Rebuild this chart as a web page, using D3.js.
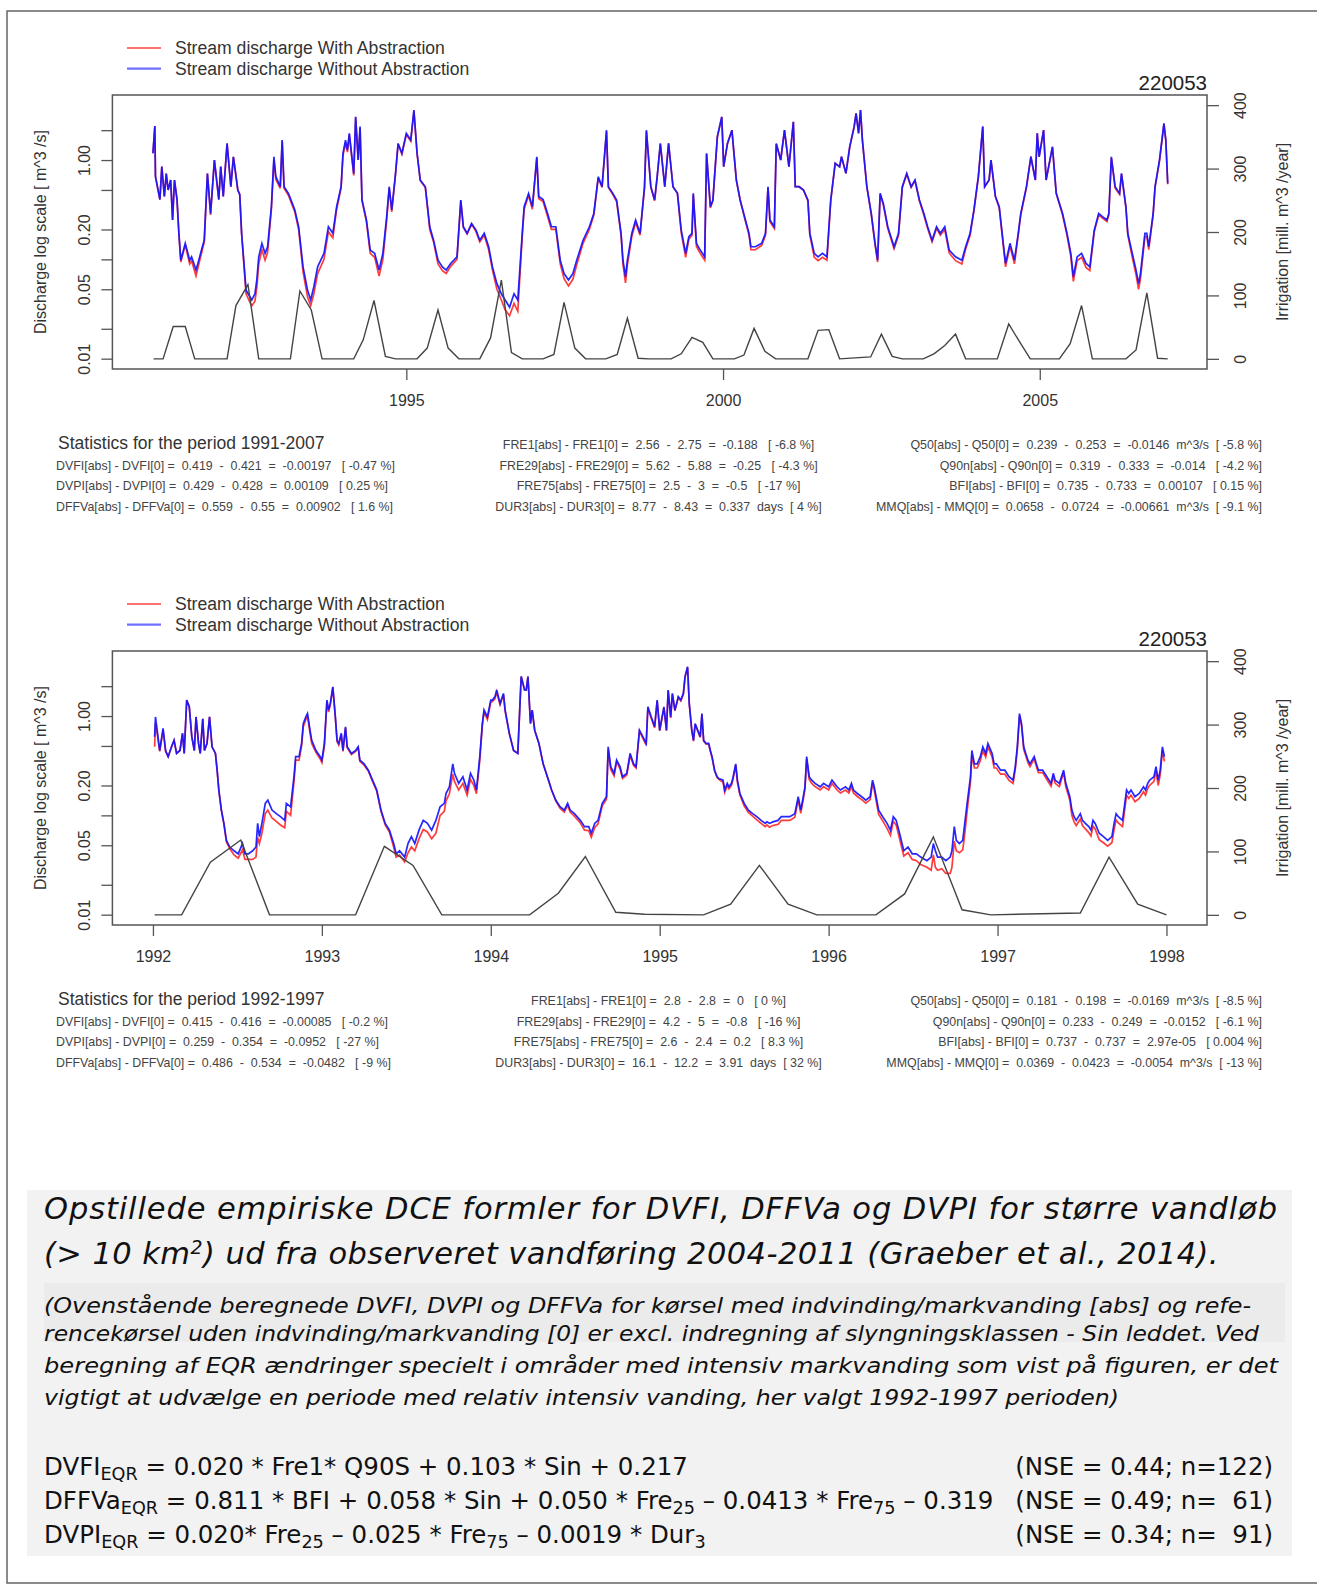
<!DOCTYPE html>
<html>
<head>
<meta charset="utf-8">
<script src="https://cdn.jsdelivr.net/npm/d3@7"></script>
<style>
  body { margin: 0; background: #fff; }
  svg text { font-family: "Liberation Sans", Arial, sans-serif; fill: #222; white-space: pre; }
</style>
</head>
<body>
<svg id="page" width="1317" height="1595"></svg>
<script>
// ---------------------------------------------------------------- data

var station = '220053';
var seriesNames = ['Stream discharge With Abstraction', 'Stream discharge Without Abstraction'];
var leftTitle = 'Discharge log scale [ m^3 /s]';
var rightTitle = 'Irrigation [mill. m^3 /year]';

var logTicks = [0.01, 0.02, 0.05, 0.1, 0.2, 0.5, 1, 2];
var logLabels = { 0.01: '0.01', 0.05: '0.05', 0.2: '0.20', 1: '1.00' };
var irrigationTicks = [0, 100, 200, 300, 400];
var topYearTicks = [1995, 2000, 2005];
var bottomYearTicks = [1992, 1993, 1994, 1995, 1996, 1997, 1998];

// [year, without abstraction, with abstraction]  m^3/s
var topDischarge = [
[1991.00,1.17,1.17],[1991.03,2.2,2.2],[1991.04,0.68,0.68],[1991.11,0.40,0.40],[1991.14,0.86,0.86],[1991.18,0.43,0.43],[1991.21,0.73,0.73],[1991.24,0.50,0.50],[1991.28,0.63,0.63],[1991.31,0.25,0.25],[1991.34,0.63,0.63],[1991.38,0.40,0.40],[1991.41,0.18,0.18],[1991.44,0.098,0.094],[1991.51,0.145,0.14],[1991.58,0.098,0.09],[1991.61,0.106,0.097],[1991.68,0.078,0.068],[1991.71,0.091,0.082],[1991.78,0.134,0.125],[1991.81,0.156,0.15],[1991.86,0.73,0.73],[1991.91,0.29,0.28],[1991.97,1.0,1.0],
[1992.04,0.40,0.40],[1992.07,0.86,0.86],[1992.11,0.43,0.43],[1992.17,1.47,1.47],[1992.23,0.54,0.54],[1992.27,1.08,1.08],[1992.34,0.50,0.50],[1992.37,0.45,0.45],[1992.40,0.183,0.18],[1992.47,0.049,0.045],[1992.53,0.042,0.037],[1992.56,0.039,0.034],[1992.61,0.045,0.038],[1992.64,0.062,0.052],[1992.67,0.106,0.09],[1992.72,0.145,0.125],[1992.77,0.115,0.098],[1992.81,0.134,0.118],[1992.87,0.34,0.32],[1992.91,1.08,1.0],[1992.94,0.68,0.64],
[1993.01,0.54,0.52],[1993.04,1.59,1.55],[1993.07,0.54,0.52],[1993.14,0.46,0.44],[1993.20,0.366,0.35],[1993.24,0.314,0.30],[1993.30,0.213,0.20],[1993.37,0.084,0.075],[1993.44,0.049,0.042],[1993.49,0.039,0.034],[1993.54,0.053,0.045],[1993.60,0.084,0.072],[1993.70,0.115,0.10],[1993.77,0.213,0.19],[1993.84,0.183,0.165],[1993.90,0.339,0.32],[1993.97,0.539,0.52],
[1994.00,1.17,1.1],[1994.04,1.59,1.5],[1994.07,1.26,1.2],[1994.10,1.86,1.8],[1994.17,0.73,0.70],[1994.20,2.73,2.7],[1994.24,1.0,1.0],[1994.27,2.17,2.1],[1994.30,0.40,0.39],[1994.37,0.25,0.24],[1994.43,0.124,0.115],[1994.50,0.115,0.105],[1994.57,0.078,0.068],[1994.63,0.115,0.10],[1994.69,0.269,0.25],[1994.73,0.539,0.52],[1994.77,0.314,0.30],[1994.83,0.734,0.72],[1994.87,1.47,1.45],[1994.93,1.17,1.15],
[1995.00,1.86,1.8],[1995.07,1.59,1.55],[1995.12,3.19,3.1],[1995.17,1.17,1.15],[1995.22,0.63,0.62],[1995.30,0.539,0.53],[1995.37,0.213,0.20],[1995.43,0.156,0.15],[1995.50,0.098,0.09],[1995.57,0.084,0.077],[1995.63,0.078,0.072],[1995.70,0.091,0.085],[1995.80,0.106,0.10],[1995.86,0.396,0.39],[1995.90,0.213,0.21],[1995.96,0.183,0.18],
[1996.03,0.23,0.225],[1996.10,0.197,0.19],[1996.16,0.156,0.15],[1996.23,0.183,0.175],[1996.30,0.134,0.125],[1996.36,0.084,0.078],[1996.43,0.057,0.05],[1996.50,0.045,0.039],[1996.56,0.039,0.031],[1996.63,0.033,0.027],[1996.70,0.045,0.036],[1996.76,0.039,0.03],[1996.83,0.183,0.17],[1996.86,0.339,0.32],[1996.93,0.46,0.44],[1996.99,0.339,0.32],
[1997.06,1.08,1.05],[1997.09,0.43,0.41],[1997.16,0.40,0.38],[1997.23,0.29,0.27],[1997.29,0.213,0.2],[1997.36,0.213,0.2],[1997.43,0.098,0.09],[1997.49,0.072,0.064],[1997.56,0.062,0.054],[1997.63,0.072,0.063],[1997.69,0.098,0.088],[1997.79,0.156,0.145],[1997.89,0.213,0.2],[1997.96,0.29,0.28],
[1998.03,0.68,0.66],[1998.09,0.539,0.53],[1998.16,2.0,1.95],[1998.19,0.539,0.53],[1998.26,0.462,0.45],[1998.32,0.396,0.38],[1998.39,0.183,0.175],[1998.42,0.098,0.09],[1998.46,0.067,0.058],[1998.49,0.098,0.088],[1998.56,0.183,0.17],[1998.62,0.249,0.235],[1998.69,0.183,0.175],[1998.76,0.539,0.52],[1998.79,2.0,1.95],[1998.86,0.539,0.53],[1998.92,0.396,0.39],[1998.96,0.68,0.67],
[1999.01,1.47,1.45],[1999.08,0.539,0.539],[1999.14,1.47,1.47],[1999.21,0.539,0.539],[1999.28,0.462,0.462],[1999.34,0.197,0.185],[1999.41,0.115,0.105],[1999.46,0.169,0.16],[1999.51,0.183,0.175],[1999.53,0.462,0.45],[1999.58,0.145,0.135],[1999.64,0.124,0.115],[1999.71,0.106,0.098],[1999.74,1.17,1.15],[1999.80,0.339,0.33],[1999.84,0.396,0.39],[1999.91,1.72,1.7],[1999.98,2.73,2.7],
[2000.01,0.857,0.857],[2000.07,1.47,1.47],[2000.14,2.0,2.0],[2000.21,0.629,0.629],[2000.27,0.396,0.396],[2000.34,0.269,0.26],[2000.41,0.183,0.175],[2000.44,0.134,0.125],[2000.51,0.134,0.125],[2000.61,0.145,0.138],[2000.67,0.183,0.175],[2000.71,0.539,0.53],[2000.74,0.249,0.24],[2000.81,0.213,0.205],[2000.84,1.47,1.45],[2000.91,1.0,1.0],[2000.97,2.0,2.0],
[2001.04,0.857,0.857],[2001.11,2.43,2.43],[2001.14,0.539,0.539],[2001.20,0.539,0.539],[2001.27,0.499,0.499],[2001.34,0.396,0.385],[2001.37,0.183,0.175],[2001.44,0.115,0.105],[2001.50,0.106,0.097],[2001.57,0.115,0.105],[2001.64,0.106,0.098],[2001.70,0.396,0.385],[2001.77,0.926,0.926],[2001.84,0.857,0.857],[2001.87,1.08,1.08],[2001.94,0.734,0.734],
[2002.00,1.36,1.36],[2002.07,2.17,2.17],[2002.10,2.95,2.95],[2002.14,1.86,1.86],[2002.17,3.19,3.19],[2002.20,1.59,1.59],[2002.27,0.539,0.539],[2002.34,0.29,0.28],[2002.40,0.145,0.14],[2002.44,0.098,0.094],[2002.48,0.462,0.45],[2002.53,0.366,0.355],[2002.60,0.213,0.205],[2002.70,0.134,0.128],[2002.77,0.183,0.175],[2002.83,0.539,0.53],[2002.90,0.734,0.72],[2002.97,0.539,0.53],
[2003.03,0.629,0.62],[2003.10,0.396,0.39],[2003.17,0.29,0.28],[2003.23,0.213,0.205],[2003.30,0.156,0.15],[2003.37,0.213,0.205],[2003.43,0.183,0.175],[2003.50,0.213,0.2],[2003.57,0.124,0.116],[2003.67,0.106,0.097],[2003.77,0.098,0.09],[2003.83,0.134,0.127],[2003.90,0.183,0.175],[2003.96,0.314,0.305],
[2004.03,0.68,0.67],[2004.10,2.17,2.17],[2004.13,0.539,0.539],[2004.20,0.629,0.629],[2004.23,1.0,1.0],[2004.30,0.428,0.428],[2004.36,0.339,0.33],[2004.43,0.134,0.126],[2004.46,0.091,0.084],[2004.53,0.145,0.136],[2004.60,0.098,0.09],[2004.66,0.183,0.175],[2004.70,0.29,0.28],[2004.79,0.539,0.53],[2004.86,1.08,1.08],[2004.93,0.629,0.629],[2004.96,1.86,1.86],[2004.99,1.08,1.08],
[2005.06,2.0,2.0],[2005.10,0.629,0.629],[2005.20,1.36,1.36],[2005.26,0.462,0.462],[2005.36,0.29,0.28],[2005.43,0.183,0.175],[2005.49,0.115,0.107],[2005.53,0.067,0.06],[2005.59,0.106,0.097],[2005.66,0.115,0.105],[2005.73,0.091,0.083],[2005.79,0.084,0.077],[2005.86,0.197,0.19],[2005.93,0.29,0.28],[2005.99,0.269,0.26],
[2006.06,0.249,0.24],[2006.09,0.29,0.28],[2006.13,1.08,1.05],[2006.19,0.539,0.52],[2006.26,0.462,0.45],[2006.29,0.734,0.72],[2006.36,0.339,0.33],[2006.39,0.183,0.175],[2006.46,0.115,0.105],[2006.52,0.078,0.07],[2006.56,0.057,0.05],[2006.59,0.072,0.064],[2006.66,0.183,0.17],[2006.69,0.183,0.17],[2006.72,0.134,0.125],[2006.79,0.29,0.28],[2006.82,0.539,0.53],[2006.89,1.0,0.98],[2006.96,2.34,2.3],[2006.99,1.59,1.55],[2007.02,0.582,0.57]
];

// [year, irrigation mill. m^3/year]
var topIrrigation = [
[1991.01,0],[1991.16,0],[1991.32,51],[1991.51,51],[1991.66,0],[1992.17,0],[1992.31,84],[1992.50,117],[1992.67,0],[1993.17,0],[1993.32,107],[1993.50,77],[1993.67,0],
[1994.17,0],[1994.32,30],[1994.49,92],[1994.67,4],[1994.83,0],[1995.17,0],[1995.33,17],[1995.50,77],[1995.66,17],[1995.83,0],[1996.16,0],[1996.33,33],[1996.50,124],[1996.66,10],[1996.83,0],
[1997.16,0],[1997.33,7],[1997.49,89],[1997.66,17],[1997.83,0],[1998.15,0],[1998.33,7],[1998.49,64],[1998.66,1],[1998.82,0],[1999.18,0],[1999.34,8],[1999.51,34],[1999.68,26],[1999.84,0],
[2000.18,0],[2000.33,6],[2000.49,48],[2000.66,12],[2000.83,0],[2001.34,0],[2001.50,45],[2001.67,46],[2001.84,0],[2002.33,3],[2002.50,39],[2002.67,4],[2002.83,0],
[2003.16,0],[2003.33,8],[2003.50,21],[2003.67,39],[2003.83,0],[2004.33,0],[2004.51,55],[2004.68,27],[2004.85,0],[2005.31,0],[2005.48,24],[2005.66,84],[2005.83,0],
[2006.36,0],[2006.52,14],[2006.69,104],[2006.86,1],[2007.02,0]
];

var bottomDischarge = [
[1992.01,0.62,0.49],[1992.015,0.98,0.84],[1992.025,0.72,0.67],[1992.04,0.45,0.44],[1992.06,0.75,0.72],[1992.075,0.45,0.44],[1992.09,0.39,0.39],[1992.11,0.49,0.49],[1992.125,0.57,0.57],[1992.14,0.42,0.42],[1992.16,0.45,0.45],[1992.175,0.67,0.67],[1992.185,0.42,0.42],[1992.20,1.45,1.45],[1992.215,1.24,1.24],[1992.23,0.62,0.62],[1992.245,0.45,0.45],[1992.255,0.98,0.98],[1992.27,0.53,0.53],[1992.28,0.42,0.42],[1992.295,0.94,0.94],[1992.305,0.45,0.45],[1992.32,0.53,0.53],[1992.335,0.98,0.98],[1992.35,0.49,0.49],[1992.37,0.42,0.42],[1992.38,0.285,0.285],[1992.39,0.18,0.18],[1992.405,0.113,0.113],[1992.42,0.083,0.082],[1992.435,0.056,0.054],[1992.455,0.048,0.046],[1992.48,0.044,0.040],[1992.505,0.041,0.037],[1992.53,0.052,0.045],[1992.545,0.041,0.036],[1992.565,0.041,0.036],[1992.59,0.044,0.036],[1992.61,0.048,0.038],[1992.62,0.083,0.060],[1992.63,0.061,0.052],[1992.645,0.083,0.066],[1992.665,0.132,0.104],[1992.68,0.142,0.113],[1992.705,0.113,0.094],[1992.73,0.104,0.087],[1992.755,0.097,0.080],[1992.78,0.089,0.075],[1992.79,0.132,0.110],[1992.815,0.122,0.100],[1992.835,0.245,0.22],[1992.845,0.39,0.36],[1992.865,0.39,0.36],[1992.88,0.53,0.50],[1992.89,0.84,0.78],[1992.905,0.98,0.92],[1992.915,1.06,1.0],[1992.93,0.72,0.67],[1992.94,0.57,0.53],[1992.965,0.45,0.43],[1992.99,0.39,0.37],
[1993.00,0.36,0.34],[1993.015,0.53,0.50],[1993.03,1.45,1.4],[1993.04,1.15,1.1],[1993.05,1.34,1.3],[1993.065,1.97,1.95],[1993.08,0.98,0.95],[1993.09,0.57,0.55],[1993.10,0.53,0.51],[1993.115,0.67,0.65],[1993.125,0.45,0.44],[1993.14,0.78,0.76],[1993.15,0.49,0.48],[1993.175,0.42,0.41],[1993.20,0.45,0.44],[1993.215,0.49,0.48],[1993.225,0.36,0.35],[1993.25,0.33,0.32],[1993.275,0.285,0.28],[1993.30,0.226,0.22],[1993.325,0.18,0.175],[1993.35,0.113,0.11],[1993.375,0.083,0.08],[1993.40,0.071,0.068],[1993.425,0.052,0.048],[1993.44,0.041,0.038],[1993.46,0.044,0.040],[1993.49,0.038,0.034],[1993.51,0.052,0.042],[1993.53,0.061,0.048],[1993.55,0.052,0.044],[1993.575,0.071,0.058],[1993.60,0.089,0.072],[1993.625,0.083,0.068],[1993.65,0.071,0.058],[1993.675,0.089,0.066],[1993.70,0.122,0.10],[1993.725,0.132,0.11],[1993.735,0.166,0.14],[1993.755,0.194,0.165],[1993.775,0.33,0.26],[1993.785,0.265,0.22],[1993.81,0.21,0.18],[1993.835,0.245,0.21],[1993.86,0.18,0.16],[1993.88,0.265,0.23],[1993.90,0.226,0.20],[1993.915,0.18,0.165],[1993.935,0.39,0.36],[1993.95,0.84,0.80],[1993.96,1.15,1.1],[1993.98,0.98,0.92],
[1994.00,1.45,1.38],[1994.01,1.45,1.4],[1994.025,1.57,1.5],[1994.035,1.83,1.75],[1994.055,1.34,1.3],[1994.075,1.69,1.65],[1994.085,1.15,1.12],[1994.11,0.67,0.66],[1994.135,0.45,0.45],[1994.16,0.42,0.42],[1994.18,2.5,2.5],[1994.20,1.83,1.83],[1994.21,1.83,1.83],[1994.22,2.5,2.5],[1994.235,0.84,0.84],[1994.245,1.15,1.15],[1994.26,0.72,0.72],[1994.285,0.53,0.53],[1994.31,0.33,0.33],[1994.335,0.245,0.245],[1994.36,0.18,0.18],[1994.385,0.142,0.14],[1994.41,0.122,0.118],[1994.435,0.113,0.108],[1994.455,0.132,0.126],[1994.47,0.113,0.108],[1994.495,0.104,0.098],[1994.53,0.089,0.084],[1994.555,0.077,0.071],[1994.58,0.077,0.070],[1994.595,0.066,0.060],[1994.615,0.083,0.075],[1994.635,0.089,0.082],[1994.66,0.132,0.125],[1994.685,0.154,0.145],[1994.695,0.49,0.46],[1994.71,0.31,0.29],[1994.73,0.265,0.25],[1994.745,0.36,0.345],[1994.765,0.31,0.295],[1994.78,0.245,0.235],[1994.805,0.265,0.255],[1994.825,0.42,0.40],[1994.845,0.33,0.32],[1994.86,0.31,0.30],[1994.88,0.72,0.70],[1994.90,0.62,0.60],[1994.92,0.53,0.51],[1994.93,1.24,1.2],[1994.95,0.98,0.95],[1994.97,0.78,0.76],[1994.985,1.45,1.42],
[1995.00,0.72,0.71],[1995.025,1.24,1.22],[1995.04,0.72,0.71],[1995.05,1.83,1.8],[1995.065,0.98,0.96],[1995.075,1.69,1.66],[1995.09,1.15,1.13],[1995.10,1.34,1.32],[1995.11,1.57,1.54],[1995.125,1.45,1.42],[1995.14,1.69,1.66],[1995.15,2.5,2.45],[1995.165,3.14,3.1],[1995.175,1.34,1.32],[1995.19,0.72,0.71],[1995.20,0.57,0.56],[1995.21,0.84,0.82],[1995.225,0.72,0.71],[1995.24,0.62,0.61],[1995.25,1.06,1.04],[1995.26,0.57,0.56],[1995.275,0.53,0.52],[1995.29,0.53,0.52],[1995.30,0.45,0.44],[1995.31,0.39,0.38],[1995.325,0.285,0.28],[1995.34,0.245,0.24],[1995.35,0.235,0.23],[1995.375,0.226,0.215],[1995.385,0.18,0.17],[1995.40,0.21,0.20],[1995.41,0.194,0.185],[1995.425,0.21,0.20],[1995.435,0.245,0.235],[1995.45,0.33,0.32],[1995.46,0.226,0.215],[1995.475,0.166,0.16],[1995.50,0.132,0.125],[1995.525,0.113,0.107],[1995.55,0.104,0.098],[1995.575,0.097,0.09],[1995.60,0.089,0.083],[1995.625,0.083,0.077],[1995.635,0.086,0.08],[1995.65,0.083,0.076],[1995.67,0.086,0.079],[1995.70,0.089,0.081],[1995.72,0.097,0.089],[1995.75,0.097,0.089],[1995.77,0.097,0.089],[1995.80,0.104,0.096],[1995.82,0.154,0.145],[1995.835,0.113,0.105],[1995.85,0.154,0.145],[1995.86,0.194,0.185],[1995.87,0.39,0.37],[1995.885,0.245,0.23],[1995.90,0.226,0.21],[1995.92,0.21,0.195],[1995.95,0.194,0.18],[1995.97,0.21,0.195],
[1996.00,0.194,0.18],[1996.02,0.226,0.21],[1996.05,0.194,0.18],[1996.07,0.18,0.168],[1996.10,0.194,0.18],[1996.12,0.18,0.168],[1996.135,0.21,0.196],[1996.147,0.18,0.168],[1996.17,0.166,0.155],[1996.196,0.154,0.144],[1996.22,0.142,0.133],[1996.246,0.154,0.144],[1996.26,0.226,0.21],[1996.27,0.194,0.18],[1996.285,0.142,0.13],[1996.296,0.113,0.103],[1996.32,0.097,0.088],[1996.346,0.083,0.074],[1996.366,0.071,0.063],[1996.383,0.097,0.087],[1996.40,0.089,0.08],[1996.42,0.066,0.058],[1996.445,0.044,0.039],[1996.47,0.048,0.042],[1996.495,0.041,0.036],[1996.52,0.041,0.035],[1996.545,0.038,0.032],[1996.582,0.035,0.030],[1996.607,0.038,0.028],[1996.62,0.052,0.040],[1996.632,0.044,0.030],[1996.645,0.038,0.028],[1996.67,0.038,0.029],[1996.694,0.035,0.026],[1996.72,0.038,0.026],[1996.73,0.044,0.030],[1996.744,0.077,0.055],[1996.756,0.056,0.044],[1996.774,0.052,0.042],[1996.794,0.056,0.045],[1996.806,0.083,0.065],[1996.82,0.132,0.11],[1996.84,0.245,0.22],[1996.848,0.45,0.41],[1996.863,0.33,0.30],[1996.88,0.33,0.30],[1996.898,0.39,0.355],[1996.913,0.49,0.45],[1996.93,0.42,0.385],[1996.943,0.53,0.49],[1996.968,0.42,0.385],[1996.98,0.33,0.30],[1996.993,0.33,0.30],
[1997.018,0.285,0.26],[1997.043,0.285,0.26],[1997.068,0.245,0.225],[1997.092,0.226,0.21],[1997.105,0.31,0.29],[1997.117,0.49,0.46],[1997.13,1.06,1.0],[1997.142,0.84,0.80],[1997.155,0.49,0.46],[1997.167,0.42,0.40],[1997.18,0.36,0.34],[1997.192,0.33,0.31],[1997.217,0.39,0.37],[1997.23,0.33,0.31],[1997.242,0.285,0.27],[1997.267,0.285,0.27],[1997.292,0.245,0.23],[1997.317,0.21,0.196],[1997.33,0.265,0.25],[1997.341,0.226,0.21],[1997.366,0.21,0.195],[1997.391,0.285,0.27],[1997.404,0.21,0.195],[1997.428,0.154,0.142],[1997.44,0.113,0.10],[1997.453,0.097,0.086],[1997.466,0.089,0.079],[1997.49,0.104,0.092],[1997.503,0.089,0.079],[1997.52,0.083,0.073],[1997.54,0.077,0.067],[1997.553,0.071,0.062],[1997.565,0.089,0.078],[1997.578,0.083,0.073],[1997.602,0.066,0.057],[1997.627,0.061,0.053],[1997.652,0.056,0.049],[1997.677,0.061,0.053],[1997.69,0.083,0.072],[1997.702,0.104,0.09],[1997.715,0.097,0.084],[1997.74,0.089,0.077],[1997.764,0.18,0.16],[1997.777,0.166,0.148],[1997.79,0.18,0.16],[1997.814,0.154,0.137],[1997.839,0.166,0.148],[1997.864,0.194,0.173],[1997.876,0.18,0.16],[1997.889,0.21,0.187],[1997.90,0.226,0.2],[1997.926,0.245,0.22],[1997.938,0.31,0.28],[1997.951,0.226,0.2],[1997.963,0.285,0.255],[1997.976,0.49,0.45],[1997.988,0.39,0.35]
];

var bottomIrrigation = [
[1992.01,0],[1992.17,0],[1992.34,83],[1992.52,118],[1992.69,0],[1993.20,0],[1993.37,108],[1993.54,78],[1993.71,0],[1994.23,0],[1994.40,34],[1994.56,92],[1994.74,4],[1994.91,1],
[1995.26,0],[1995.42,17],[1995.59,78],[1995.76,17],[1995.93,0],[1996.28,0],[1996.45,33],[1996.62,123],[1996.79,8],[1996.96,0],[1997.49,3],[1997.66,91],[1997.83,17],[1998.00,0]
];

var topStatsTitle = 'Statistics for the period 1991-2007';
var topStatsLeft = [
  'DVFI[abs] - DVFI[0] =  0.419  -  0.421  =  -0.00197   [ -0.47 %]',
  'DVPI[abs] - DVPI[0] =  0.429  -  0.428  =  0.00109   [ 0.25 %]',
  'DFFVa[abs] - DFFVa[0] =  0.559  -  0.55  =  0.00902   [ 1.6 %]'
];
var topStatsMid = [
  'FRE1[abs] - FRE1[0] =  2.56  -  2.75  =  -0.188   [ -6.8 %]',
  'FRE29[abs] - FRE29[0] =  5.62  -  5.88  =  -0.25   [ -4.3 %]',
  'FRE75[abs] - FRE75[0] =  2.5  -  3  =  -0.5   [ -17 %]',
  'DUR3[abs] - DUR3[0] =  8.77  -  8.43  =  0.337  days  [ 4 %]'
];
var topStatsRight = [
  'Q50[abs] - Q50[0] =  0.239  -  0.253  =  -0.0146  m^3/s  [ -5.8 %]',
  'Q90n[abs] - Q90n[0] =  0.319  -  0.333  =  -0.014   [ -4.2 %]',
  'BFI[abs] - BFI[0] =  0.735  -  0.733  =  0.00107   [ 0.15 %]',
  'MMQ[abs] - MMQ[0] =  0.0658  -  0.0724  =  -0.00661  m^3/s  [ -9.1 %]'
];
var bottomStatsTitle = 'Statistics for the period 1992-1997';
var bottomStatsLeft = [
  'DVFI[abs] - DVFI[0] =  0.415  -  0.416  =  -0.00085   [ -0.2 %]',
  'DVPI[abs] - DVPI[0] =  0.259  -  0.354  =  -0.0952   [ -27 %]',
  'DFFVa[abs] - DFFVa[0] =  0.486  -  0.534  =  -0.0482   [ -9 %]'
];
var bottomStatsMid = [
  'FRE1[abs] - FRE1[0] =  2.8  -  2.8  =  0   [ 0 %]',
  'FRE29[abs] - FRE29[0] =  4.2  -  5  =  -0.8   [ -16 %]',
  'FRE75[abs] - FRE75[0] =  2.6  -  2.4  =  0.2   [ 8.3 %]',
  'DUR3[abs] - DUR3[0] =  16.1  -  12.2  =  3.91  days  [ 32 %]'
];
var bottomStatsRight = [
  'Q50[abs] - Q50[0] =  0.181  -  0.198  =  -0.0169  m^3/s  [ -8.5 %]',
  'Q90n[abs] - Q90n[0] =  0.233  -  0.249  =  -0.0152   [ -6.1 %]',
  'BFI[abs] - BFI[0] =  0.737  -  0.737  =  2.97e-05   [ 0.004 %]',
  'MMQ[abs] - MMQ[0] =  0.0369  -  0.0423  =  -0.0054  m^3/s  [ -13 %]'
];

// caption text, [text, 'sub'|'sup'|''] segments
var captionTitle = [
  [['Opstillede empiriske DCE formler for DVFI, DFFVa og DVPI for større vandløb', '']],
  [['(> 10 km', ''], ['2', 'sup'], [') ud fra observeret vandføring 2004-2011 (Graeber et al., 2014).', '']]
];
var captionNote = [
  '(Ovenstående beregnede DVFI, DVPI og DFFVa for kørsel med indvinding/markvanding [abs] og refe-',
  'rencekørsel uden indvinding/markvanding [0] er excl. indregning af slyngningsklassen - Sin leddet. Ved',
  'beregning af EQR ændringer specielt i områder med intensiv markvanding som vist på figuren, er det',
  'vigtigt at udvælge en periode med relativ intensiv vanding, her valgt 1992-1997 perioden)'
];
var equations = [
  [['DVFI', ''], ['EQR', 'sub'], [' = 0.020 * Fre1* Q90S + 0.103 * Sin + 0.217', '']],
  [['DFFVa', ''], ['EQR', 'sub'], [' = 0.811 * BFI + 0.058 * Sin + 0.050 * Fre', ''], ['25', 'sub'], [' – 0.0413 * Fre', ''], ['75', 'sub'], [' – 0.319', '']],
  [['DVPI', ''], ['EQR', 'sub'], [' = 0.020* Fre', ''], ['25', 'sub'], [' – 0.025 * Fre', ''], ['75', 'sub'], [' – 0.0019 * Dur', ''], ['3', 'sub']]
];
var equationFit = ['(NSE = 0.44; n=122)', '(NSE = 0.49; n=  61)', '(NSE = 0.34; n=  91)'];

// ---------------------------------------------------------------- page

var svg = d3.select('#page');

// outer frame
svg.append('rect').attr('x', 7).attr('y', 11).attr('width', 1340).attr('height', 1572)
  .style('fill', 'none').style('stroke', '#666').style('stroke-width', 1.5);

var boxLeft = 112.4, boxRight = 1207, boxH = 274;

function drawPanel(top, xDomain, xTicks, discharge, irrigation, statsTitle, statsLeft, statsMid, statsRight, id){
  var g = svg.append('g');
  var x = d3.scaleLinear().domain(xDomain).range([boxLeft, boxRight]);
  var yQ = d3.scaleLog().domain([0.00787, 4.52]).range([top + boxH, top]);
  var yI = d3.scaleLinear().domain([-16, 416]).range([top + boxH, top]);

  // Legend
  var legColors = ['#ff7070', '#7070ff'];
  seriesNames.forEach(function(name, i){
    var ly = top - 47 + i * 20.7;
    g.append('line').attr('x1', 127).attr('x2', 161).attr('y1', ly).attr('y2', ly)
      .style('stroke', legColors[i]).style('stroke-width', 2.2);
    g.append('text').attr('x', 175).attr('y', ly + 6).style('font-size', '17.6px').style('fill', '#333').text(name);
  });

  // Station id
  g.append('text').attr('x', boxRight).attr('y', top - 5).style('text-anchor', 'end')
    .style('font-size', '20.5px').style('fill', '#222').text(station);

  // Clip for the lines
  svg.append('clipPath').attr('id', id).append('rect')
    .attr('x', boxLeft).attr('y', top).attr('width', boxRight - boxLeft).attr('height', boxH);
  var plot = g.append('g').attr('clip-path', 'url(#' + id + ')');

  var lineWith = d3.line().x(function(d){ return x(d[0]); }).y(function(d){ return yQ(d[2]); });
  var lineWithout = d3.line().x(function(d){ return x(d[0]); }).y(function(d){ return yQ(d[1]); });
  var lineIrr = d3.line().x(function(d){ return x(d[0]); }).y(function(d){ return yI(d[1]); });

  plot.append('path').datum(discharge).attr('d', lineWith)
    .style('fill', 'none').style('stroke', '#ff1a1a').style('stroke-width', 1.7).style('stroke-opacity', 0.85);
  plot.append('path').datum(discharge).attr('d', lineWithout)
    .style('fill', 'none').style('stroke', '#1414ff').style('stroke-width', 1.7).style('stroke-opacity', 0.92);
  plot.append('path').datum(irrigation).attr('d', lineIrr)
    .style('fill', 'none').style('stroke', '#444').style('stroke-width', 1.4);

  // Box
  g.append('rect').attr('x', boxLeft).attr('y', top).attr('width', boxRight - boxLeft).attr('height', boxH)
    .style('fill', 'none').style('stroke', '#555').style('stroke-width', 1.5);

  // Left axis (log)
  var axL = g.append('g').attr('transform', 'translate(' + boxLeft + ',0)')
    .call(d3.axisLeft(yQ).tickValues(logTicks).tickSize(11).tickFormat(function(d){ return logLabels[d] || ''; }));
  axL.selectAll('text').attr('transform', 'rotate(-90)').attr('x', 0).attr('y', -22).attr('dy', 0)
    .style('text-anchor', 'middle');

  // Right axis (irrigation)
  var axR = g.append('g').attr('transform', 'translate(' + boxRight + ',0)')
    .call(d3.axisRight(yI).tickValues(irrigationTicks).tickSize(12));
  axR.selectAll('text').attr('transform', 'rotate(-90)').attr('x', 0).attr('y', 39).attr('dy', 0)
    .style('text-anchor', 'middle');

  // Bottom axis (years)
  var axB = g.append('g').attr('transform', 'translate(0,' + (top + boxH) + ')')
    .call(d3.axisBottom(x).tickValues(xTicks).tickSize(11).tickFormat(d3.format('d')));
  axB.selectAll('text').attr('y', 37).attr('dy', 0);

  [axL, axR, axB].forEach(function(a){
    a.select('.domain').remove();
    a.selectAll('line').style('stroke', '#555').style('stroke-width', 1.3);
    a.selectAll('text').style('font-size', '16px').style('fill', '#333')
      .style('font-family', '"Liberation Sans", Arial, sans-serif');
  });

  // Axis titles
  g.append('text').attr('transform', 'translate(46,' + (top + boxH / 2) + ') rotate(-90)')
    .style('text-anchor', 'middle').style('font-size', '16px').style('fill', '#333').text(leftTitle);
  g.append('text').attr('transform', 'translate(1288,' + (top + boxH / 2) + ') rotate(-90)')
    .style('text-anchor', 'middle').style('font-size', '16px').style('fill', '#333').text(rightTitle);

  // Statistics
  var sy = top + 354, dl = 20.7;
  g.append('text').attr('x', 58).attr('y', sy).style('font-size', '17.5px').style('fill', '#333').text(statsTitle);
  statsLeft.forEach(function(s, i){
    g.append('text').attr('x', 56).attr('y', sy + (i + 1) * dl).style('font-size', '12.4px').style('fill', '#444').text(s);
  });
  statsMid.forEach(function(s, i){
    g.append('text').attr('x', 658.5).attr('y', sy + i * dl).style('text-anchor', 'middle')
      .style('font-size', '12.4px').style('fill', '#444').text(s);
  });
  statsRight.forEach(function(s, i){
    g.append('text').attr('x', 1262).attr('y', sy + i * dl).style('text-anchor', 'end')
      .style('font-size', '12.4px').style('fill', '#444').text(s);
  });
}

drawPanel(95, [1990.36, 2007.64], topYearTicks, topDischarge, topIrrigation,
  topStatsTitle, topStatsLeft, topStatsMid, topStatsRight, 'clipTop');
drawPanel(651, [1991.76, 1998.24], bottomYearTicks, bottomDischarge, bottomIrrigation,
  bottomStatsTitle, bottomStatsLeft, bottomStatsMid, bottomStatsRight, 'clipBottom');

// ---------------------------------------------------------------- caption box

svg.append('rect').attr('x', 27).attr('y', 1190).attr('width', 1265).attr('height', 1556 - 1190).style('fill', '#f2f2f2');
svg.append('rect').attr('x', 44).attr('y', 1283).attr('width', 1241).attr('height', 59).style('fill', '#ebebeb');

function segText(sel, segs){
  segs.forEach(function(s){
    var t = sel.append('tspan').text(s[0]);
    if(s[1] == 'sub'){ t.style('font-size', '0.72em').attr('baseline-shift', '-28%'); }
    if(s[1] == 'sup'){ t.style('font-size', '0.62em').attr('baseline-shift', '55%'); }
  });
}

// spread letters so a line fills the width it has in the picture
function fitWidth(t, target){
  var w = t.node().getComputedTextLength();
  var n = t.text().length;
  t.style('letter-spacing', ((target - w) / n) + 'px');
}

var capFont = '"DejaVu Sans", Verdana, sans-serif';
var titleY = [1219, 1264];
var titleW = [1234, 1175];
captionTitle.forEach(function(segs, i){
  var t = svg.append('text').attr('x', 44).attr('y', titleY[i])
    .style('font-family', capFont).style('font-style', 'italic').style('font-size', '30.5px').style('fill', '#111');
  segText(t, segs);
  fitWidth(t, titleW[i]);
});

var noteY = [1313, 1341, 1373, 1405];
var noteW = [1207, 1215, 1234, 1075];
captionNote.forEach(function(s, i){
  svg.append('text').attr('x', 44).attr('y', noteY[i])
    .style('font-family', capFont).style('font-style', 'italic').style('font-size', '20.5px').style('fill', '#111')
    .attr('textLength', noteW[i]).attr('lengthAdjust', 'spacingAndGlyphs').text(s);
});

var eqY = [1475, 1509, 1543];
var eqNodes = equations.map(function(segs, i){
  var t = svg.append('text').attr('x', 44).attr('y', eqY[i])
    .style('font-family', capFont).style('font-size', '21px').style('fill', '#111');
  segText(t, segs);
  return t;
});
// scale equation font so the longest line matches the picture
var eqScale = 950 / eqNodes[1].node().getComputedTextLength();
eqNodes.forEach(function(t){ t.style('font-size', (21 * eqScale) + 'px'); });
equationFit.forEach(function(s, i){
  svg.append('text').attr('x', 1273).attr('y', eqY[i]).style('text-anchor', 'end')
    .style('font-family', capFont).style('font-size', (21 * eqScale) + 'px').style('fill', '#111').text(s);
});
</script>
</body>
</html>
